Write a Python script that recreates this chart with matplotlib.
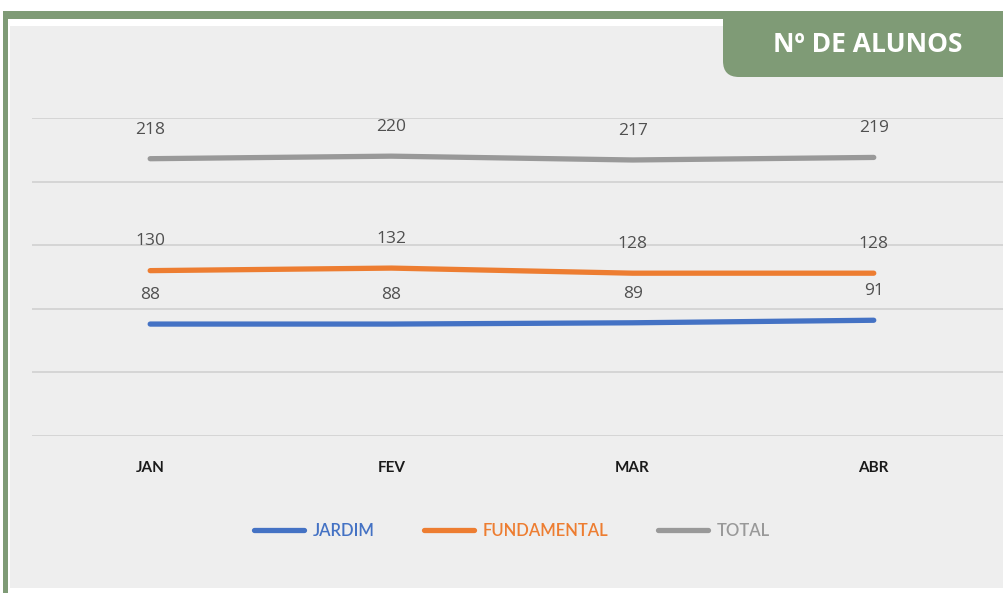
import matplotlib
matplotlib.use("Agg")
import matplotlib.pyplot as plt
from matplotlib.patches import Rectangle, FancyBboxPatch
from matplotlib.lines import Line2D

meses = ["JAN", "FEV", "MAR", "ABR"]
jardim = [88, 88, 89, 91]
fundamental = [130, 132, 128, 128]
total = [218, 220, 217, 219]

series = [("JARDIM", jardim, "#4472C4"),
          ("FUNDAMENTAL", fundamental, "#ED7D31"),
          ("TOTAL", total, "#999999")]

W, H = 1004, 593
green = "#7F9B76"

fig = plt.figure(figsize=(W / 100, H / 100), dpi=100, facecolor="white")

# background frame drawn in pixel coordinates
bg = fig.add_axes([0, 0, 1, 1], zorder=0)
bg.set_xlim(0, W)
bg.set_ylim(H, 0)
bg.axis("off")
bg.add_patch(Rectangle((3, 11), W, H, facecolor=green, edgecolor="none"))
bg.add_patch(Rectangle((8, 19), W, H, facecolor="white", edgecolor="none"))
bg.add_patch(Rectangle((10, 26), W, 562, facecolor="#EEEEEE", edgecolor="none"))
bg.add_patch(FancyBboxPatch((723, -40), 400, 117, boxstyle="round,pad=0,rounding_size=16",
                            facecolor=green, edgecolor="none"))
bg.add_patch(Rectangle((0, -50), W, 61, facecolor="white", edgecolor="none"))
bg.text(868, 44, "Nº DE ALUNOS", color="white", fontsize=19, fontweight="bold",
        family=["Open Sans", "DejaVu Sans"], ha="center", va="center")

# plot area: y 0..250 between pixel rows 436 and 118
ax = fig.add_axes([32 / W, (H - 436) / H, (W - 32) / W, 318 / H], zorder=1)
ax.patch.set_alpha(0)
x = list(range(len(meses)))
for nome, vals, cor in series:
    ax.plot(x, vals, color=cor, lw=3.8, solid_capstyle="round", label=nome)
    for xi, v in zip(x, vals):
        ax.annotate(str(v), (xi, v), xytext=(0, 21), textcoords="offset points",
                    ha="center", va="center", fontsize=12.5, color="#505050",
                    family="Open Sans")

ax.set_xlim(-0.49, 3.54)
ax.set_ylim(0, 250)
ax.set_yticks([0, 50, 100, 150, 200, 250])
ax.grid(axis="y", color="#D0D0D0", lw=1.2)
ax.set_axisbelow(True)
ax.tick_params(axis="y", left=False, labelleft=False)
ax.set_xticks(x)
ax.set_xticklabels(meses, fontsize=11, fontweight="bold", family="Lato", color="#1a1a1a")
ax.tick_params(axis="x", length=0, pad=18)
for s in ax.spines.values():
    s.set_visible(False)

handles = [Line2D([], [], color=c, lw=3.8, solid_capstyle="round") for _, _, c in series]
leg = fig.legend(handles, [n for n, _, _ in series], loc="center",
                 bbox_to_anchor=(512 / W, 1 - 531 / H), ncol=3, frameon=False,
                 prop={"family": "Lato", "size": 12, "weight": "semibold"}, handlelength=3.0,
                 handletextpad=0.5, columnspacing=3.0, labelcolor="linecolor")

fig.savefig("out.png", dpi=100, facecolor="white")
